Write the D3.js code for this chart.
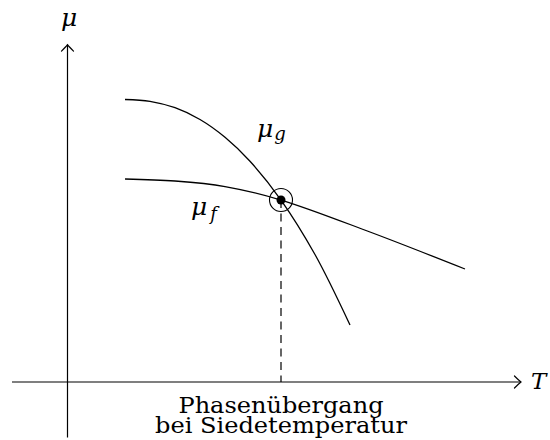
<!DOCTYPE html>
<html>
<head>
<meta charset="utf-8">
<script src="https://cdn.jsdelivr.net/npm/d3@7"></script>
<style>
  html, body { margin: 0; padding: 0; background: #fff; }
  svg { display: block; }
  svg text { font-family: "DejaVu Serif", "Liberation Serif", serif; }
</style>
</head>
<body>
<svg id="chart" width="550" height="440"></svg>
<script>
// Chemical potential of the gas phase (mu_g) against temperature T
const gasT  = [1.347, 1.932, 2.518, 3.103, 3.689, 4.274, 5.000, 5.796, 6.616];
const gasMu = [6.616, 6.574, 6.424, 6.148, 5.731, 5.169, 4.262, 2.986, 1.335];

// Chemical potential of the liquid phase (mu_f) against temperature T
const liquidT  = [1.347, 2.518, 3.689, 5.000, 7.084, 9.309];
const liquidMu = [4.754, 4.707, 4.578, 4.262, 3.513, 2.646];

// Where both curves meet: the phase transition at the boiling point
const transitionT  = [5.000];
const transitionMu = [4.262];

// Axis extents in the same units
const axisT  = [-1.3, 10.62];
const axisMu = [-1.3, 7.9];

const captionLines = ["Phasenübergang", "bei Siedetemperatur"];

const svg = d3.select("#chart");

const x = d3.scaleLinear().domain([0, 10]).range([67.5, 494.5]);
const y = d3.scaleLinear().domain([0, 10]).range([382, -45]);

// Axes with open arrow tips
const axisG = svg.append("g").attr("stroke", "#000").attr("fill", "none")
  .attr("stroke-width", 1.2);

axisG.append("line")
  .attr("x1", x(axisT[0])).attr("x2", x(axisT[1]))
  .attr("y1", y(0)).attr("y2", y(0));
axisG.append("line")
  .attr("x1", x(0)).attr("x2", x(0))
  .attr("y1", y(axisMu[0])).attr("y2", y(axisMu[1]));

function arrowTip(tx, ty, angle) {
  // chevron pointing along +x, then rotated
  const p = "M-6.5,-6 Q-2,-1.5 0,0 Q-2,1.5 -6.5,6";
  axisG.append("path")
    .attr("d", p)
    .attr("stroke-linecap", "round")
    .attr("transform", `translate(${tx},${ty}) rotate(${angle})`);
}
arrowTip(x(axisT[1]), y(0), 0);
arrowTip(x(0), y(axisMu[1]), -90);

// Axis labels
svg.append("text")
  .attr("x", 69).attr("y", 26)
  .attr("text-anchor", "middle")
  .style("font-style", "italic")
  .style("font-size", "25px")
  .text("μ");

svg.append("text")
  .attr("x", 531).attr("y", 388.5)
  .style("font-style", "italic")
  .style("font-size", "23px")
  .text("T");

// Curves
const line = d3.line()
  .x(d => x(d[0]))
  .y(d => y(d[1]))
  .curve(d3.curveCatmullRom.alpha(0.5));

svg.append("path")
  .datum(d3.zip(gasT, gasMu))
  .attr("d", line)
  .attr("fill", "none")
  .attr("stroke", "#000")
  .attr("stroke-width", 1.3);

svg.append("path")
  .datum(d3.zip(liquidT, liquidMu))
  .attr("d", line)
  .attr("fill", "none")
  .attr("stroke", "#000")
  .attr("stroke-width", 1.3);

// Dashed drop line from the transition point to the T axis
svg.append("line")
  .attr("x1", x(transitionT[0])).attr("x2", x(transitionT[0]))
  .attr("y1", y(transitionMu[0])).attr("y2", y(0))
  .attr("stroke", "#000")
  .attr("stroke-width", 1.2)
  .attr("stroke-dasharray", "8,5.5");

// Marked intersection
svg.append("circle")
  .attr("cx", x(transitionT[0])).attr("cy", y(transitionMu[0]))
  .attr("r", 11.5)
  .attr("fill", "none")
  .attr("stroke", "#000")
  .attr("stroke-width", 1.1);
svg.append("circle")
  .attr("cx", x(transitionT[0])).attr("cy", y(transitionMu[0]))
  .attr("r", 4.5)
  .attr("fill", "#000");

// Curve labels with subscripts
function muLabel(px, py, sub, subDx, subDy) {
  const t = svg.append("text")
    .attr("x", px).attr("y", py)
    .style("font-style", "italic")
    .style("font-size", "25px");
  t.append("tspan").text("μ");
  t.append("tspan")
    .style("font-size", "18px")
    .attr("dx", subDx)
    .attr("dy", subDy)
    .text(sub);
}
muLabel(257, 137, "g", 1, 3);
muLabel(191, 215, "f", 3, 5);

// Caption under the transition point
const captionSizes = [205, 252];
const captionBaselines = [413, 433];
captionLines.forEach((s, i) => {
  svg.append("text")
    .attr("x", x(transitionT[0]) - captionSizes[i] / 2)
    .attr("y", captionBaselines[i])
    .style("font-size", "23px")
    .attr("textLength", captionSizes[i])
    .attr("lengthAdjust", "spacingAndGlyphs")
    .text(s);
});
</script>
</body>
</html>
